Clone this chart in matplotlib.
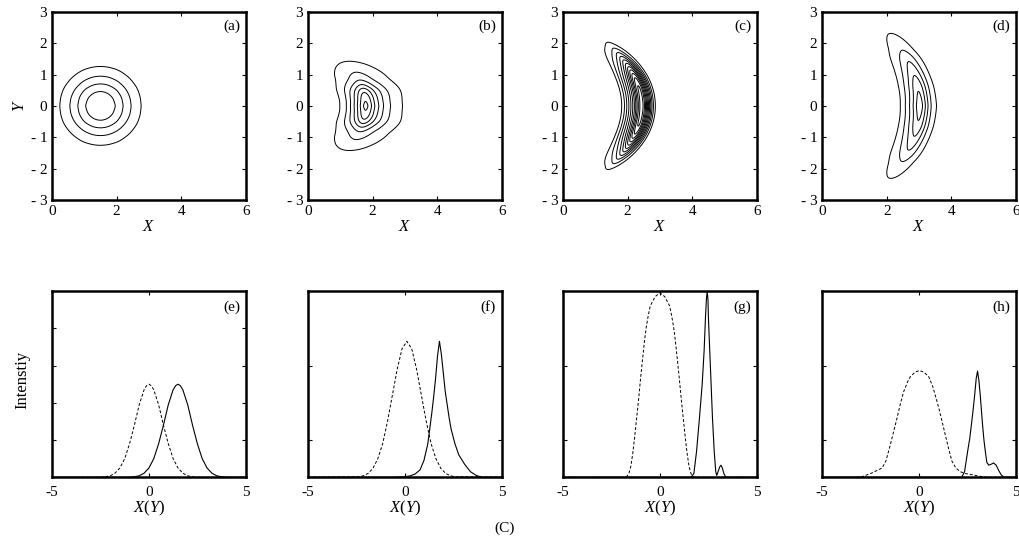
"""
Beam contour (a)-(d) and intensity profile (e)-(h) recreation.
Top row: contours of the beam; the X cut is the solid profile of the
panel below, the ridge amplitude along Y is read from the contour tips.
Bottom row: X profile (solid) and Y profile (dashed).
"""

import numpy as np
import matplotlib.pyplot as plt

plt.rcParams['font.family'] = ['Liberation Serif', 'DejaVu Serif']
plt.rcParams['mathtext.fontset'] = 'custom'
plt.rcParams['mathtext.it'] = 'Liberation Serif:italic'
plt.rcParams['mathtext.rm'] = 'Liberation Serif'

# ---- profiles (e)-(h) ----
# (e)
e_dash_x = [-5, -2.5, -2.25, -2.0, -1.75, -1.5, -1.25, -1.0, -0.75, -0.5, -0.25, -0.12,
            0, 0.12, 0.25, 0.5, 0.75, 1.0, 1.25, 1.5, 1.75, 2.0, 2.25, 2.5, 5]
e_dash_y = [0, 0.0, 0.003, 0.008, 0.022, 0.05, 0.10, 0.18, 0.28, 0.39, 0.47, 0.492,
            0.50, 0.492, 0.47, 0.39, 0.28, 0.18, 0.10, 0.05, 0.022, 0.008, 0.003, 0.0, 0]
e_solid_x = [-5, -1.0, -0.75, -0.5, -0.25, 0, 0.25, 0.5, 0.75, 1.0, 1.25, 1.38, 1.5,
             1.62, 1.75, 2.0, 2.25, 2.5, 2.75, 3.0, 3.25, 3.5, 3.75, 4.0, 5]
e_solid_y = [0, 0.0, 0.003, 0.008, 0.022, 0.05, 0.10, 0.18, 0.28, 0.39, 0.47, 0.492, 0.50,
             0.492, 0.47, 0.39, 0.28, 0.18, 0.10, 0.05, 0.022, 0.008, 0.003, 0.0, 0]

# (f)
f_dash_x = [-5, -2.4, -2.15, -1.9, -1.65, -1.4, -1.15, -0.9, -0.65, -0.4, -0.15, 0.1,
            0.35, 0.6, 0.85, 1.1, 1.35, 1.6, 1.85, 2.1, 2.35, 2.6, 5]
f_dash_y = [0, 0.003, 0.008, 0.021, 0.048, 0.10, 0.18, 0.30, 0.44, 0.58, 0.69, 0.73,
            0.69, 0.58, 0.44, 0.30, 0.18, 0.10, 0.048, 0.021, 0.008, 0.003, 0]
f_solid_x = [-5, -0.52, -0.02, 0.28, 0.53, 0.78, 0.98, 1.18, 1.28, 1.38, 1.48, 1.58, 1.68,
             1.78, 1.88, 1.98, 2.08, 2.18, 2.28, 2.38, 2.58, 2.78, 3.08, 3.38, 3.68, 3.98, 5]
f_solid_y = [0, 0, 0.003, 0.008, 0.018, 0.04, 0.09, 0.18, 0.26, 0.34, 0.43, 0.53, 0.65,
             0.73, 0.66, 0.56, 0.46, 0.39, 0.32, 0.26, 0.18, 0.12, 0.07, 0.03, 0.01, 0.0, 0]

# (g)
g_dash_x = [-5, -1.75, -1.6, -1.5, -1.4, -1.3, -1.2, -1.1, -1.0, -0.9, -0.8, -0.7, -0.6,
            -0.5, -0.25, 0, 0.25, 0.5, 0.6, 0.7, 0.8, 0.9, 1.0, 1.1, 1.2, 1.3, 1.4, 1.5,
            1.6, 1.75, 5]
g_dash_y = [0, 0, 0.02, 0.06, 0.13, 0.22, 0.32, 0.42, 0.53, 0.63, 0.73, 0.81, 0.87,
            0.92, 0.97, 0.99, 0.97, 0.92, 0.87, 0.81, 0.73, 0.63, 0.53, 0.42, 0.32, 0.22,
            0.13, 0.06, 0.02, 0, 0]
g_solid_x = [-5, 1.6, 1.75, 1.89, 2.04, 2.18, 2.28, 2.35, 2.4, 2.44, 2.48, 2.5, 2.57,
             2.64, 2.71, 2.8, 2.88, 2.93, 3.0, 3.08, 3.15, 3.22, 3.3, 3.4, 5]
g_solid_y = [0, 0, 0.02, 0.14, 0.32, 0.50, 0.68, 0.86, 0.96, 1.0, 0.95, 0.86, 0.68,
             0.50, 0.32, 0.14, 0.03, 0.01, 0.03, 0.055, 0.065, 0.05, 0.02, 0, 0]

# (h)
h_dash_x = [-5, -3.2, -2.9, -2.5, -2.2, -1.9, -1.7, -1.48, -1.3, -1.13, -0.95, -0.79,
            -0.6, -0.45, -0.2, 0.02, 0.25, 0.5, 0.7, 0.84, 1.05, 1.27, 1.5, 1.7, 1.9,
            2.13, 2.4, 2.73, 3.16, 3.5, 5]
h_dash_y = [0, 0, 0.005, 0.02, 0.035, 0.05, 0.09, 0.175, 0.25, 0.32, 0.40, 0.46,
            0.51, 0.54, 0.565, 0.573, 0.565, 0.54, 0.49, 0.44, 0.36, 0.265, 0.165, 0.086,
            0.05, 0.03, 0.02, 0.014, 0.005, 0, 0]
h_solid_x = [-5, 2.2, 2.35, 2.51, 2.62, 2.7, 2.8, 2.87, 2.95, 3.02, 3.09, 3.16, 3.22,
             3.28, 3.35, 3.42, 3.5, 3.6, 3.72, 3.85, 3.98, 4.12, 4.25, 4.4, 5]
h_solid_y = [0, 0, 0.03, 0.14, 0.21, 0.28, 0.37, 0.44, 0.53, 0.57, 0.52, 0.44, 0.36,
             0.28, 0.2, 0.14, 0.08, 0.065, 0.07, 0.077, 0.065, 0.035, 0.012, 0, 0]

# y tick marks (no labels) on the profile panels
e_yticks = [0.2, 0.4, 0.6, 0.8]
f_yticks = [0.2, 0.6]
g_yticks = [0.2, 0.6]
h_yticks = [0.2, 0.6]

# ---- contour panels (a)-(d) ----
# relative amplitude along the ridge vs |Y| (from where each contour closes)
a_ridge_y = [0, 0.25, 0.5, 0.75, 1.0, 1.25, 1.5, 1.75, 2.0, 2.5, 3.5]
a_ridge_amp = [1.0, 0.94, 0.78, 0.56, 0.36, 0.20, 0.10, 0.044, 0.017, 0.0, 0]
b_ridge_y = [0, 0.3, 0.49, 0.59, 0.7, 0.84, 1.1, 1.45, 1.6, 1.8, 3.5]
b_ridge_amp = [1.0, 0.91, 0.78, 0.65, 0.52, 0.39, 0.26, 0.13, 0.05, 0.0, 0]
c_ridge_y = [0, 0.6, 0.9, 1.1, 1.3, 1.5, 1.7, 1.9, 2.05, 2.2, 2.4, 3.5]
c_ridge_amp = [1.0, 0.975, 0.88, 0.74, 0.57, 0.41, 0.26, 0.14, 0.08, 0.02, 0.0, 0]
d_ridge_y = [0, 0.63, 1.07, 1.49, 1.81, 2.35, 2.5, 2.7, 3.5]
d_ridge_amp = [1.0, 0.87, 0.68, 0.50, 0.32, 0.14, 0.05, 0.0, 0]

bend = [0.0, 0.25, 0.25, 0.165]      # ridge shift towards -X per Y^2
widen = [0.0, 0.6, 0.0, 0.05]        # growth of the X width per Y^2
a_levels = [0.2, 0.4, 0.6, 0.8]
b_levels = [0.13, 0.26, 0.39, 0.52, 0.65, 0.78, 0.91]
c_levels = [0.08, 0.16, 0.24, 0.32, 0.4, 0.48, 0.56, 0.64, 0.72, 0.8, 0.88, 0.95]
d_levels = [0.14, 0.32, 0.5, 0.68, 0.85]

top_labels = ['(a)', '(b)', '(c)', '(d)']
bottom_labels = ['(e)', '(f)', '(g)', '(h)']
lefts = [0.051, 0.302, 0.552, 0.806]


def smooth_curve(xp, fp, grid, sigma=0.06):
    """Linear table lookup on a fine grid, then a light Gaussian blur."""
    vals = np.interp(grid, xp, fp)
    step = grid[1] - grid[0]
    n = int(4 * sigma / step)
    t = np.arange(-n, n + 1) * step
    kern = np.exp(-0.5 * (t / sigma) ** 2)
    kern /= kern.sum()
    padded = np.pad(vals, n, mode='edge')
    return np.convolve(padded, kern, mode='valid')


def style_frame(ax):
    for sp in ax.spines.values():
        sp.set_linewidth(1.8)
    ax.tick_params(direction='in', length=3, width=0.8, labelsize=11,
                   top=True, right=True)


def draw_contour(ax, solid_x, solid_y, ridge_y, ridge_amp, k, b, levels, label):
    u = np.linspace(-5, 8, 2601)
    pu = smooth_curve(solid_x, np.array(solid_y) / max(solid_y), u)
    x0 = solid_x[int(np.argmax(solid_y))]
    v = np.linspace(0, 3.5, 701)
    pv = smooth_curve(ridge_y, ridge_amp, v)

    gx = np.linspace(0, 6, 601)
    gy = np.linspace(-3, 3, 601)
    X, Y = np.meshgrid(gx, gy)
    w = 1 + b * Y ** 2
    px = np.interp(x0 + (X - x0 + k * Y ** 2) / w, u, pu)
    py = np.interp(np.abs(Y), v, pv)
    ax.contour(X, Y, px * py, levels=levels, colors='black', linewidths=0.7)
    ax.set_xlim(0, 6)
    ax.set_ylim(-3, 3)
    ax.set_xticks([0, 2, 4, 6])
    ax.set_yticks([-3, -2, -1, 0, 1, 2, 3])
    ax.set_yticklabels(['- 3', '- 2', '- 1', '0', '1', '2', '3'])
    ax.set_xlabel('$X$', fontsize=12, labelpad=1)
    ax.text(0.97, 0.96, label, transform=ax.transAxes, ha='right', va='top',
            fontsize=11)
    style_frame(ax)


def draw_profile(ax, solid_x, solid_y, dash_x, dash_y, yticks, label):
    ax.plot(dash_x, dash_y, color='black', lw=0.7, ls=(0, (3, 2)))
    ax.plot(solid_x, solid_y, color='black', lw=0.8)
    ax.set_xlim(-5, 5)
    ax.set_ylim(0, 1.0)
    ax.set_xticks([-5, 0, 5])
    ax.set_xticklabels(['-5', '0', '5'])
    ax.set_yticks(yticks)
    ax.set_yticklabels([])
    ax.set_xlabel('$X(Y)$', fontsize=12, labelpad=0)
    ax.text(0.97, 0.95, label, transform=ax.transAxes, ha='right', va='top',
            fontsize=11)
    style_frame(ax)
    ax.tick_params(axis='x', pad=6)


fig = plt.figure(figsize=(10.2, 5.43), dpi=100)

profiles = [
    (e_solid_x, e_solid_y, e_dash_x, e_dash_y, e_yticks),
    (f_solid_x, f_solid_y, f_dash_x, f_dash_y, f_yticks),
    (g_solid_x, g_solid_y, g_dash_x, g_dash_y, g_yticks),
    (h_solid_x, h_solid_y, h_dash_x, h_dash_y, h_yticks),
]
ridges = [
    (a_ridge_y, a_ridge_amp),
    (b_ridge_y, b_ridge_amp),
    (c_ridge_y, c_ridge_amp),
    (d_ridge_y, d_ridge_amp),
]
levels_all = [a_levels, b_levels, c_levels, d_levels]

for i in range(4):
    sx, sy, dx, dy, yt = profiles[i]
    ry, ra = ridges[i]
    ax_top = fig.add_axes([lefts[i], 0.632, 0.190, 0.346])
    draw_contour(ax_top, sx, sy, ry, ra, bend[i], widen[i], levels_all[i],
                 top_labels[i])
    if i == 0:
        ax_top.set_ylabel('$Y$', fontsize=12, labelpad=2)

    ax_bot = fig.add_axes([lefts[i], 0.121, 0.190, 0.343])
    draw_profile(ax_bot, sx, sy, dx, dy, yt, bottom_labels[i])

fig.text(0.022, 0.30, 'Intenstiy', rotation=90, ha='center', va='center',
         fontsize=12)
fig.text(0.495, 0.028, '(C)', ha='center', va='center', fontsize=11)

fig.savefig('out.png', dpi=100)
